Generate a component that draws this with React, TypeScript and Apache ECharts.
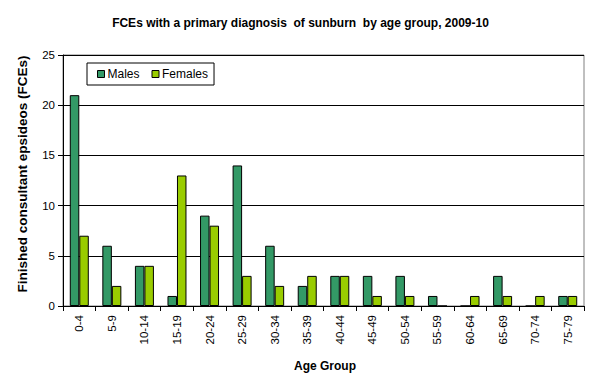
import React, { useEffect, useRef } from "react";
import * as echarts from "echarts";

const categories = ["0-4", "5-9", "10-14", "15-19", "20-24", "25-29", "30-34", "35-39", "40-44", "45-49", "50-54", "55-59", "60-64", "65-69", "70-74", "75-79"];
const males = [21, 6, 4, 1, 9, 14, 6, 2, 3, 3, 3, 1, 0, 3, 0, 1];
const females = [7, 2, 4, 13, 8, 3, 2, 3, 3, 1, 1, 0, 1, 1, 1, 1];
const yTicks = { min: 0, max: 25, interval: 5 };

const FONT = "Arial, 'Liberation Sans', sans-serif";

export default function App() {
  const ref = useRef<HTMLDivElement>(null);
  useEffect(() => {
    if (!ref.current) return;
    const chart = echarts.init(ref.current, null, { renderer: "svg" });
    chart.setOption({
      animation: false,
      backgroundColor: "#ffffff",
      title: {
        text: "FCEs with a primary diagnosis  of sunburn  by age group, 2009-10",
        left: "center",
        top: 12,
        textStyle: { fontFamily: FONT, fontSize: 12, fontWeight: "bold", color: "#000" },
      },
      legend: {
        left: 87,
        top: 63,
        orient: "horizontal",
        itemWidth: 7,
        itemHeight: 7,
        itemGap: 12,
        borderColor: "#000",
        borderWidth: 1,
        borderRadius: 0,
        padding: [5, 6, 5, 10],
        icon: "rect",
        textStyle: { fontFamily: FONT, fontSize: 12, color: "#000", padding: [0, 0, 0, -2] },
        data: [
          { name: "Males", itemStyle: { borderColor: "#000", borderWidth: 1 } },
          { name: "Females", itemStyle: { borderColor: "#000", borderWidth: 1 } },
        ],
      },
      grid: {
        left: 63,
        right: 17,
        top: 55,
        bottom: 75,
        show: true,
        borderColor: "#808080",
        borderWidth: 1,
        backgroundColor: "transparent",
      },
      xAxis: {
        type: "category",
        data: categories,
        axisLine: { lineStyle: { color: "#000" } },
        axisTick: { show: true, alignWithLabel: false, length: 5, lineStyle: { color: "#000" } },
        axisLabel: {
          rotate: 90,
          interval: 0,
          margin: 9,
          fontFamily: FONT,
          fontSize: 11.5,
          color: "#000",
        },
      },
      yAxis: {
        type: "value",
        min: yTicks.min,
        max: yTicks.max,
        interval: yTicks.interval,
        axisLine: { show: true, lineStyle: { color: "#000" } },
        axisTick: { show: true, length: 5, lineStyle: { color: "#000" } },
        axisLabel: { fontFamily: FONT, fontSize: 11.5, color: "#000", margin: 8 },
        splitLine: { show: true, lineStyle: { color: "#000", width: 1 } },
      },
      graphic: [
        {
          type: "text",
          x: 22,
          y: 174,
          rotation: Math.PI / 2,
          style: {
            text: "Finished consultant epsideos (FCEs)",
            fontFamily: FONT,
            fontSize: 13.5,
            fontWeight: "bold",
            fill: "#000",
            align: "center",
            verticalAlign: "middle",
          },
        },
        {
          type: "text",
          x: 325,
          y: 366,
          style: {
            text: "Age Group",
            fontFamily: FONT,
            fontSize: 12,
            fontWeight: "bold",
            fill: "#000",
            align: "center",
            verticalAlign: "middle",
          },
        },
      ],
      series: [
        {
          name: "Males",
          type: "bar",
          data: males,
          barWidth: 9.5,
          barGap: "0%",
          itemStyle: { color: "#339966", borderColor: "#000", borderWidth: 1 },
        },
        {
          name: "Females",
          type: "bar",
          data: females,
          barWidth: 9.5,
          barGap: "0%",
          itemStyle: { color: "#99CC00", borderColor: "#000", borderWidth: 1 },
        },
      ],
    });
    return () => chart.dispose();
  }, []);
  return <div ref={ref} style={{ width: 601, height: 381, position: "absolute", left: 0, top: 0 }} />;
}
